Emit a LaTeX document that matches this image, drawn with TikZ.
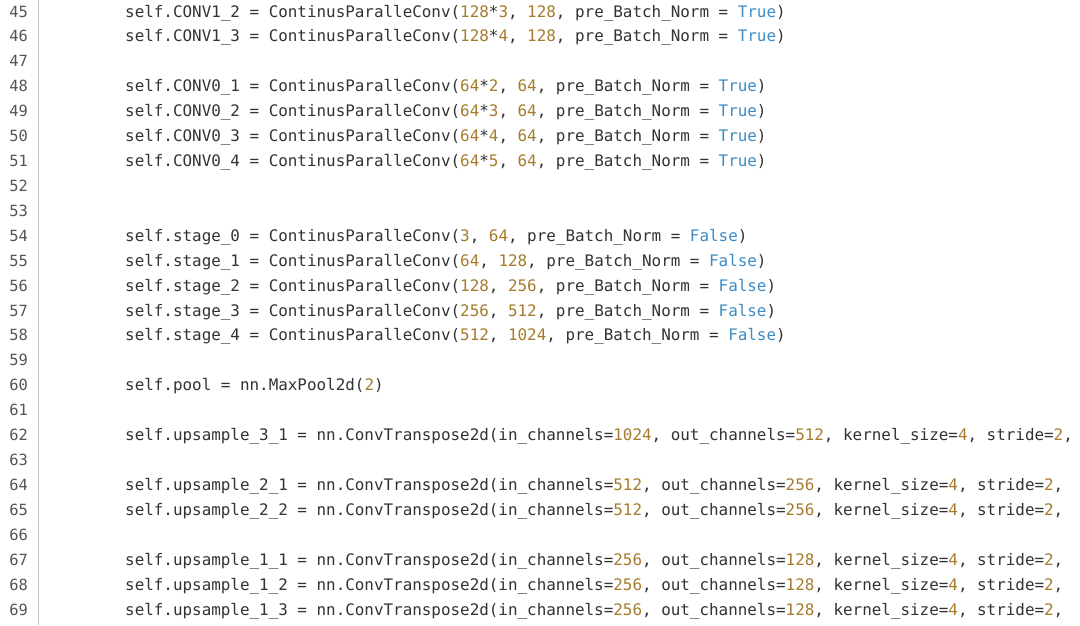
\documentclass[tikz,border=0pt]{standalone}
\usepackage{fontspec}
\newfontfamily\codefont{DejaVu Sans Mono}
\definecolor{codegray}{HTML}{333333}
\definecolor{numgold}{HTML}{A67C2C}
\definecolor{kwblue}{HTML}{3F8CC4}
\definecolor{lnogray}{HTML}{555555}
\newcommand{\nm}[1]{\textcolor{numgold}{#1}}
\newcommand{\kw}[1]{\textcolor{kwblue}{#1}}
\tikzset{
  code/.style={anchor=base west, inner sep=0pt, font=\codefont\fontsize{15.9}{18}\selectfont, text=codegray},
  lno/.style={anchor=base east, inner sep=0pt, font=\codefont\fontsize{15.4}{18}\selectfont, text=lnogray}
}
\begin{document}
\begin{tikzpicture}[x=1pt,y=1pt]
  \useasboundingbox (0,0) rectangle (1080,-625);
  \clip (0,0) rectangle (1080,-625);
  \fill[white] (0,0) rectangle (1080,-625);
  \draw[black!25, line width=0.8pt] (38,0) -- (38,-625);
  %%%%%%%%%%%%%
  \foreach \i in {0,...,24}{
    \pgfmathtruncatemacro{\ln}{45+\i}
    \node[lno] (n\ln) at (28,-17-24.92*\i) {\ln};
  }
  %%%%%%%%%%%%%
  \node[code] (l45) at (125,-17) {self.CONV1\_2 = ContinusParalleConv(\nm{128}*\nm{3}, \nm{128}, pre\_Batch\_Norm = \kw{True})};
  \node[code] (l46) at (125,-41.92) {self.CONV1\_3 = ContinusParalleConv(\nm{128}*\nm{4}, \nm{128}, pre\_Batch\_Norm = \kw{True})};
  \node[code] (l48) at (125,-91.76) {self.CONV0\_1 = ContinusParalleConv(\nm{64}*\nm{2}, \nm{64}, pre\_Batch\_Norm = \kw{True})};
  \node[code] (l49) at (125,-116.68) {self.CONV0\_2 = ContinusParalleConv(\nm{64}*\nm{3}, \nm{64}, pre\_Batch\_Norm = \kw{True})};
  \node[code] (l50) at (125,-141.60) {self.CONV0\_3 = ContinusParalleConv(\nm{64}*\nm{4}, \nm{64}, pre\_Batch\_Norm = \kw{True})};
  \node[code] (l51) at (125,-166.52) {self.CONV0\_4 = ContinusParalleConv(\nm{64}*\nm{5}, \nm{64}, pre\_Batch\_Norm = \kw{True})};
  \node[code] (l54) at (125,-241.28) {self.stage\_0 = ContinusParalleConv(\nm{3}, \nm{64}, pre\_Batch\_Norm = \kw{False})};
  \node[code] (l55) at (125,-266.20) {self.stage\_1 = ContinusParalleConv(\nm{64}, \nm{128}, pre\_Batch\_Norm = \kw{False})};
  \node[code] (l56) at (125,-291.12) {self.stage\_2 = ContinusParalleConv(\nm{128}, \nm{256}, pre\_Batch\_Norm = \kw{False})};
  \node[code] (l57) at (125,-316.04) {self.stage\_3 = ContinusParalleConv(\nm{256}, \nm{512}, pre\_Batch\_Norm = \kw{False})};
  \node[code] (l58) at (125,-340.96) {self.stage\_4 = ContinusParalleConv(\nm{512}, \nm{1024}, pre\_Batch\_Norm = \kw{False})};
  \node[code] (l60) at (125,-390.80) {self.pool = nn.MaxPool2d(\nm{2})};
  \node[code] (l62) at (125,-440.64) {self.upsample\_3\_1 = nn.ConvTranspose2d(in\_channels=\nm{1024}, out\_channels=\nm{512}, kernel\_size=\nm{4}, stride=\nm{2},};
  \node[code] (l64) at (125,-490.48) {self.upsample\_2\_1 = nn.ConvTranspose2d(in\_channels=\nm{512}, out\_channels=\nm{256}, kernel\_size=\nm{4}, stride=\nm{2},};
  \node[code] (l65) at (125,-515.40) {self.upsample\_2\_2 = nn.ConvTranspose2d(in\_channels=\nm{512}, out\_channels=\nm{256}, kernel\_size=\nm{4}, stride=\nm{2},};
  \node[code] (l67) at (125,-565.24) {self.upsample\_1\_1 = nn.ConvTranspose2d(in\_channels=\nm{256}, out\_channels=\nm{128}, kernel\_size=\nm{4}, stride=\nm{2},};
  \node[code] (l68) at (125,-590.16) {self.upsample\_1\_2 = nn.ConvTranspose2d(in\_channels=\nm{256}, out\_channels=\nm{128}, kernel\_size=\nm{4}, stride=\nm{2},};
  \node[code] (l69) at (125,-615.08) {self.upsample\_1\_3 = nn.ConvTranspose2d(in\_channels=\nm{256}, out\_channels=\nm{128}, kernel\_size=\nm{4}, stride=\nm{2},};
\end{tikzpicture}
\end{document}
